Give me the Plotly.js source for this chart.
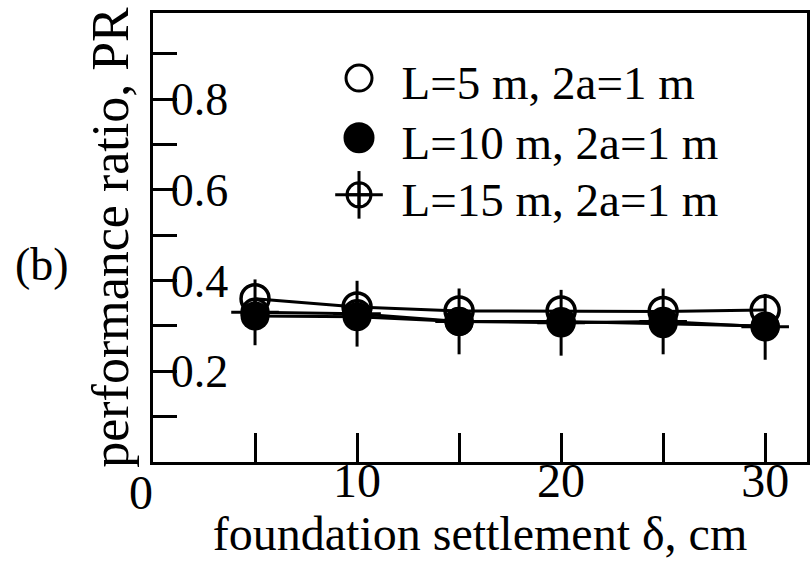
<!DOCTYPE html>
<html>
<head>
<meta charset="utf-8">
<script src="https://cdn.plot.ly/plotly-3.0.1.min.js"></script>
<style>html,body{margin:0;padding:0;background:#fff;}#chart{width:812px;height:564px;}</style>
</head>
<body>
<div id="chart"></div>
<script>
// ---- data ----
var settlement = [5, 10, 15, 20, 25, 30];
var prL5  = [0.360, 0.342, 0.333, 0.333, 0.332, 0.335];
var prL10 = [0.322, 0.320, 0.310, 0.310, 0.305, 0.300];
var prL15 = [0.330, 0.327, 0.310, 0.307, 0.310, 0.298];
var seriesNames = ["L=5 m, 2a=1 m", "L=10 m, 2a=1 m", "L=15 m, 2a=1 m"];
var xTickVals = [0, 10, 20, 30];
var xTickText = ["0", "10", "20", "30"];
var yTickVals = [0.2, 0.4, 0.6, 0.8];
var yTickText = ["0.2", "0.4", "0.6", "0.8"];

// ---- styling / layout constants ----
var FONT = "Liberation Serif, Times New Roman, serif";
var lineW = 3;
var legendMarkerX = 0.315;
var legendTextX = 0.38;
var legendRowY = [0.855, 0.722, 0.595];
var X_RANGE = [0, 32.05];

var traces = [];
traces.push({x: settlement, y: prL5, mode: "lines+markers", xaxis: "x", yaxis: "y",
  line: {color: "black", width: lineW},
  marker: {symbol: "circle-open", size: 28, color: "black", line: {width: 3.5, color: "black"}},
  hoverinfo: "skip"});
traces.push({x: settlement, y: prL10, mode: "lines+markers", xaxis: "x", yaxis: "y",
  line: {color: "black", width: lineW},
  marker: {symbol: "circle", size: 29, color: "black"},
  hoverinfo: "skip"});
traces.push({x: settlement, y: prL15, mode: "lines+markers", xaxis: "x", yaxis: "y",
  line: {color: "black", width: lineW},
  marker: {symbol: "circle-cross-open", size: 26, color: "black", line: {width: 3.5, color: "black"}},
  hoverinfo: "skip"});
traces.push({x: settlement, y: prL15, mode: "markers", xaxis: "x", yaxis: "y",
  marker: {symbol: "line-ns-open", size: 47, color: "black", line: {width: 3, color: "black"}},
  hoverinfo: "skip"});
traces.push({x: settlement, y: prL15, mode: "markers", xaxis: "x", yaxis: "y",
  marker: {symbol: "line-ew-open", size: 34, color: "black", line: {width: 3, color: "black"}},
  hoverinfo: "skip"});

// ---- legend drawn on an overlay axis ----
var legSymbols = ["circle-open", "circle", "circle-cross-open"];
var legSizes = [26, 28, 24];
for (var i = 0; i < 3; i++) {
  traces.push({x: [legendMarkerX], y: [legendRowY[i]], mode: "markers", xaxis: "x2", yaxis: "y2",
    marker: {symbol: legSymbols[i], size: legSizes[i], color: "black", line: {width: 3, color: "black"}},
    hoverinfo: "skip"});
  traces.push({x: [legendTextX], y: [legendRowY[i] - 0.02], mode: "text", xaxis: "x2", yaxis: "y2",
    text: [seriesNames[i]], textposition: "middle right",
    textfont: {family: FONT, size: 47, color: "black"}, hoverinfo: "skip"});
}
traces.push({x: [legendMarkerX], y: [legendRowY[2]], mode: "markers", xaxis: "x2", yaxis: "y2",
  marker: {symbol: "line-ns-open", size: 34, color: "black", line: {width: 3, color: "black"}}, hoverinfo: "skip"});
traces.push({x: [legendMarkerX], y: [legendRowY[2]], mode: "markers", xaxis: "x2", yaxis: "y2",
  marker: {symbol: "line-ew-open", size: 34, color: "black", line: {width: 3, color: "black"}}, hoverinfo: "skip"});

var layout = {
  width: 812, height: 564,
  margin: {l: 153, r: 5, t: 13, b: 102},
  paper_bgcolor: "white", plot_bgcolor: "white",
  showlegend: false,
  font: {family: FONT, color: "black", size: 46},
  xaxis: {
    range: X_RANGE, showgrid: false, zeroline: false,
    showline: true, mirror: true, linewidth: 3, linecolor: "black",
    tickvals: xTickVals.slice(1), ticktext: xTickText.slice(1),
    ticks: "inside", ticklen: 29, tickwidth: 3, tickcolor: "black",
    minor: {dtick: 5, tick0: 0, ticks: "inside", ticklen: 29, tickwidth: 3, tickcolor: "black", showgrid: false},
    tickfont: {family: FONT, size: 48, color: "black"},
    ticklabelstandoff: -26,
    title: {text: "foundation settlement \u03b4, cm", font: {family: FONT, size: 48, color: "black"}, standoff: 0}
  },
  yaxis: {
    range: [0, 0.99], showgrid: false, zeroline: false,
    showline: true, mirror: true, linewidth: 3, linecolor: "black",
    tickvals: yTickVals, ticktext: yTickText,
    ticks: "inside", ticklen: 24, tickwidth: 3, tickcolor: "black",
    ticklabelposition: "inside",
    minor: {dtick: 0.1, tick0: 0, ticks: "inside", ticklen: 24, tickwidth: 3, tickcolor: "black", showgrid: false},
    tickfont: {family: FONT, size: 46, color: "black"},
    title: {text: "performance ratio, PR", font: {family: FONT, size: 52, color: "black"}, standoff: 26}
  },
  xaxis2: {overlaying: "x", range: [0, 1], visible: false},
  yaxis2: {overlaying: "y", range: [0, 1], visible: false},
  annotations: [{
    text: "(b)", xref: "paper", yref: "paper", x: -0.17, y: 0.44,
    xanchor: "center", yanchor: "middle", showarrow: false,
    font: {family: FONT, size: 46, color: "black"}
  }, {
    // "0" tick label of the x axis (Plotly hides it at the frame corner)
    text: xTickText[0], xref: "x", yref: "paper", x: xTickVals[0], y: -0.005,
    xanchor: "right", yanchor: "top", showarrow: false, xshift: 2,
    font: {family: FONT, size: 48, color: "black"}
  }]
};

Plotly.newPlot("chart", traces, layout, {displayModeBar: false, staticPlot: true});
</script>
</body>
</html>
